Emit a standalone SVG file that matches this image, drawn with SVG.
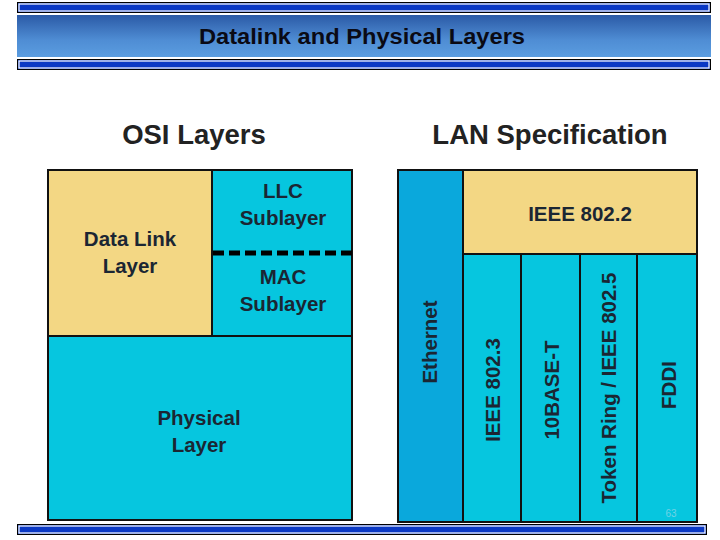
<svg xmlns="http://www.w3.org/2000/svg" width="720" height="540" viewBox="0 0 720 540">
<defs>
<linearGradient id="ban" x1="0" y1="0" x2="0" y2="1">
<stop offset="0" stop-color="#2b5aa6"/>
<stop offset="0.6" stop-color="#4f8dd4"/>
<stop offset="1" stop-color="#5b9de0"/>
</linearGradient>
<style>
.bar{fill:#0a38c4;stroke:#000;stroke-width:1}
.barin{fill:none;stroke:#fff;stroke-width:1.2}
.box{stroke:#111;stroke-width:2}
.yel{fill:#f3d784}
.cy{fill:#06c6df}
.eth{fill:#0aa8dc}
.t{font-family:"Liberation Sans",Arial,sans-serif;font-weight:bold;font-size:20.5px;fill:#1b2633;text-anchor:middle}
.h{font-family:"Liberation Sans",Arial,sans-serif;font-weight:bold;font-size:27.5px;fill:#222;text-anchor:middle}
</style>
</defs>
<rect width="720" height="540" fill="#fff"/>
<g id="header">
<rect class="bar" x="17.5" y="2.5" width="693" height="10"/>
<rect class="barin" x="19" y="4" width="690" height="7"/>
<rect x="17" y="15" width="694" height="42" fill="url(#ban)"/>
<rect class="bar" x="17.5" y="59.5" width="693" height="10"/>
<rect class="barin" x="19" y="61" width="690" height="7"/>
<text x="362" y="44" font-family="Liberation Sans,Arial,sans-serif" font-weight="bold" font-size="22" fill="#0a0a14" text-anchor="middle" textLength="326" lengthAdjust="spacingAndGlyphs">Datalink and Physical Layers</text>
</g>
<g id="footer">
<rect class="bar" x="17.5" y="524.5" width="689" height="10"/>
<rect class="barin" x="19" y="526" width="686" height="7"/>
</g>
<g id="osi">
<text class="h" x="194" y="144">OSI Layers</text>
<g id="datalink"><rect class="box yel" x="48" y="170" width="164" height="166"/>
<text class="t" x="130" y="246">Data Link</text><text class="t" x="130" y="273">Layer</text></g>
<g id="sublayers"><rect class="box cy" x="212" y="170" width="140" height="166"/>
<text class="t" x="283" y="198">LLC</text><text class="t" x="283" y="225">Sublayer</text>
<text class="t" x="283" y="284">MAC</text><text class="t" x="283" y="311">Sublayer</text></g>
<g id="physical"><rect class="box cy" x="48" y="336" width="304" height="184"/>
<text class="t" x="199" y="425">Physical</text><text class="t" x="199" y="452">Layer</text></g>
</g>
<g id="connectors">
<line x1="213" y1="253" x2="352" y2="253" stroke="#000" stroke-width="5" stroke-dasharray="11,5"/>
</g>
<g id="lan">
<text class="h" x="550" y="144">LAN Specification</text>
<g id="ethernet"><rect class="box eth" x="398" y="170" width="65" height="352"/>
<text class="t" transform="translate(437,342) rotate(-90)">Ethernet</text></g>
<g id="ieee8022"><rect class="box yel" x="463" y="170" width="234" height="84"/>
<text class="t" x="580" y="221">IEEE 802.2</text></g>
<g id="ieee8023"><rect class="box cy" x="463" y="254" width="58" height="268"/>
<text class="t" transform="translate(500,390) rotate(-90)">IEEE 802.3</text></g>
<g id="base10t"><rect class="box cy" x="521" y="254" width="59" height="268"/>
<text class="t" transform="translate(559,390) rotate(-90)">10BASE-T</text></g>
<g id="tokenring"><rect class="box cy" x="580" y="254" width="57" height="268"/>
<text class="t" transform="translate(616,388) rotate(-90)">Token Ring / IEEE 802.5</text></g>
<g id="fddi"><rect class="box cy" x="637" y="254" width="60" height="268"/>
<text class="t" transform="translate(676,385) rotate(-90)">FDDI</text></g>
</g>
<text x="671" y="517" font-family="Liberation Sans,Arial,sans-serif" font-size="10" fill="#6fd3e6" text-anchor="middle">63</text>
</svg>
